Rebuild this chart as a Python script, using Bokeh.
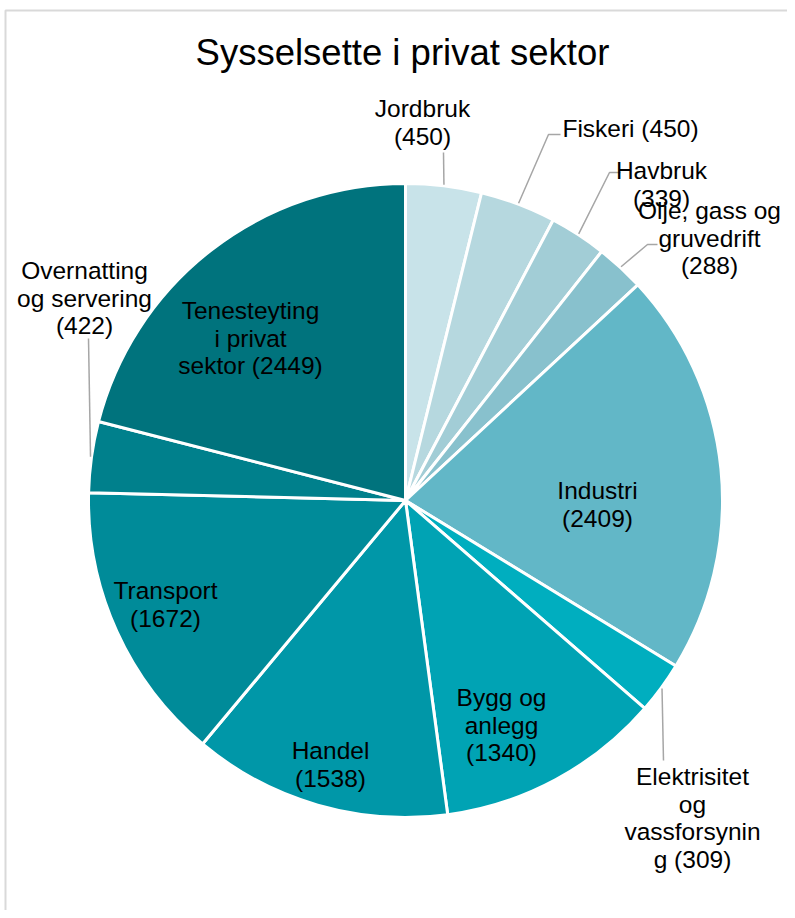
import math
from bokeh.plotting import figure
from bokeh.models import Range1d, ColumnDataSource
from bokeh.core.properties import value
from bokeh.embed import file_html
from bokeh.resources import INLINE

# ---- data ----
title_text = "Sysselsette i privat sektor"
categories = ["Jordbruk", "Fiskeri", "Havbruk", "Olje, gass og gruvedrift", "Industri",
              "Elektrisitet og vassforsyning", "Bygg og anlegg", "Handel", "Transport",
              "Overnatting og servering", "Tenesteyting i privat sektor"]
values = [450, 450, 339, 288, 2409, 309, 1340, 1538, 1672, 422, 2449]
label_templates = ["Jordbruk\n({})", "Fiskeri ({})", "Havbruk\n({})", "Olje, gass og\ngruvedrift\n({})",
                   "Industri\n({})", "Elektrisitet\nog\nvassforsynin\ng ({})", "Bygg og\nanlegg\n({})",
                   "Handel\n({})", "Transport\n({})", "Overnatting\nog servering\n({})",
                   "Tenesteyting\ni privat\nsektor ({})"]
colors = ["#C8E3E9", "#B6D8DF", "#A2CDD6", "#88C1CD", "#62B7C7", "#00AEBF",
          "#00A3B4", "#0097A8", "#008B99", "#00808C", "#00737D"]

# ---- layout (page pixel coordinates) ----
W, H = 787, 910
CX, CY, R = 405, 500, 317
FONT = "Liberation Sans"
LABEL_SIZE = 24.5
LINE_H = 27.5
# label anchor (center x, first-line y), and leader-line elbow (None = inside label)
label_pos = [(422, 108), (630, 128), (661, 170), (709, 210), (597, 490), (692, 776),
             (501, 697), (330, 750), (165, 590), (84, 270), (250, 310)]
leader_end = [[(443, 152)], [(548, 134), (560, 134)], [(609, 172), (620, 172)],
              [(647, 244), (657, 244)], None, [(663, 760)], None, None, None,
              [(88, 338)], None]


def Y(py):
    return H - py


p = figure(width=W, height=H, output_backend="svg", toolbar_location=None,
           x_range=Range1d(0, W), y_range=Range1d(0, H), min_border=0)
p.axis.visible = False
p.grid.visible = False
p.outline_line_color = None
p.background_fill_color = "white"

# frame
p.line([5, 5, W], [Y(H + 5), Y(10), Y(10)], line_color="#D9D9D9", line_width=2)

# wedges
total = sum(values)
starts, ends, mids = [], [], []
cum = 0
for v in values:
    a0 = cum / total * 2 * math.pi
    cum += v
    a1 = cum / total * 2 * math.pi
    starts.append(math.pi / 2 - a0)
    ends.append(math.pi / 2 - a1)
    mids.append((a0 + a1) / 2)

src = ColumnDataSource(dict(start=starts, end=ends, color=colors, cat=categories, val=values))
p.wedge(x=CX, y=Y(CY), radius=R, start_angle="start", end_angle="end", direction="clock",
        fill_color="color", line_color="white", line_width=3, source=src)

# leader lines
lxs, lys = [], []
for i, le in enumerate(leader_end):
    if le is None:
        continue
    th = mids[i]
    sx = CX + (R + 1) * math.sin(th)
    sy = CY - (R + 1) * math.cos(th)
    xs = [sx] + [pt[0] for pt in le]
    ys = [Y(sy)] + [Y(pt[1]) for pt in le]
    lxs.append(xs)
    lys.append(ys)
p.multi_line(lxs, lys, line_color="#A6A6A6", line_width=1.5)

# labels
tx, ty, tt = [], [], []
for i, tmpl in enumerate(label_templates):
    lines = tmpl.format(values[i]).split("\n")
    x0, y0 = label_pos[i]
    for k, ln in enumerate(lines):
        tx.append(x0)
        ty.append(Y(y0 + k * LINE_H))
        tt.append(ln)
p.text(tx, ty, text=tt, text_align="center", text_baseline="middle",
       text_font=value(FONT), text_font_size=f"{LABEL_SIZE}px", text_color="black")

# title
p.text([402], [Y(52)], text=[title_text], text_align="center", text_baseline="middle",
       text_font=value(FONT), text_font_size="36.5px", text_color="black")

open("out.html", "w").write(file_html(p, INLINE))
